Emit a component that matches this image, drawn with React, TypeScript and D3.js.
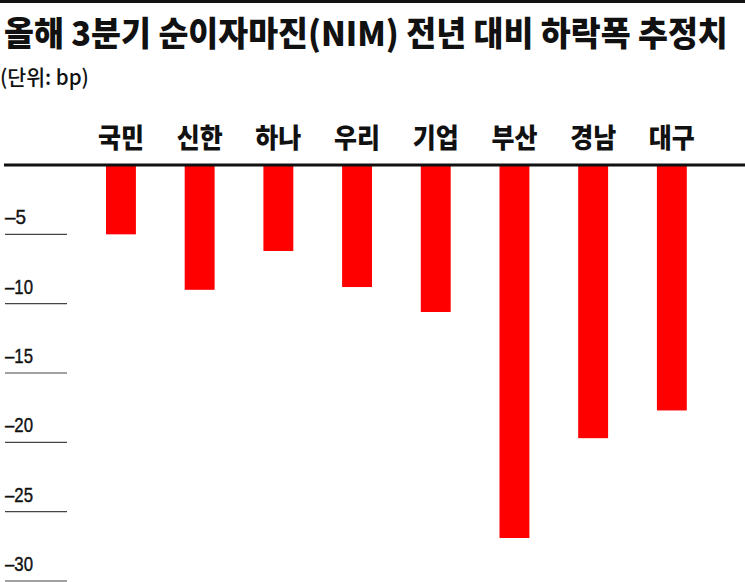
import React, { useRef, useEffect } from 'react';
import * as d3 from 'd3';

const banks = ['국민', '신한', '하나', '우리', '기업', '부산', '경남', '대구'];
const nimDrop = [-5, -9, -6.2, -8.8, -10.6, -26.9, -19.7, -17.7];
const yTicks = [-5, -10, -15, -20, -25, -30];

const W = 745;
const H = 582;

// 텍스트를 가로로 눌러 원하는 폭에 맞춤 (x 기준점 유지)
function squeeze(node: SVGTextElement | null, target: number, x0: number, anchor: 'start' | 'middle' = 'start') {
  if (!node) return;
  const len = node.getComputedTextLength();
  if (!len) return;
  const k = target / len;
  node.setAttribute('transform', `translate(${x0},0) scale(${k},1) translate(${-x0},0)`);
  if (anchor === 'middle') node.setAttribute('text-anchor', 'middle');
}

const NimChart: React.FC = () => {
  const svgRef = useRef<SVGSVGElement | null>(null);

  useEffect(() => {
    const svg = d3.select(svgRef.current)
      .attr('width', W)
      .attr('height', H)
      .style('background', '#fff')
      .style('position', 'absolute')
      .style('left', '0px')
      .style('top', '0px');

    const kr = "'Noto Sans CJK KR', 'Noto Sans', sans-serif";

    // 위쪽 굵은 선
    svg.append('rect')
      .attr('x', 0).attr('y', 0)
      .attr('width', W).attr('height', 3)
      .attr('fill', '#111');

    const title = svg.append('text')
      .attr('x', 4)
      .attr('y', 46)
      .style('font-family', kr)
      .style('font-weight', 900)
      .style('font-size', '34px')
      .attr('fill', '#111')
      .text('올해 3분기 순이자마진(NIM) 전년 대비 하락폭 추정치');
    squeeze(title.node(), 724, 4);

    const unit = svg.append('text')
      .attr('x', 0)
      .attr('y', 85)
      .style('font-family', kr)
      .style('font-weight', 500)
      .style('font-size', '21px')
      .attr('fill', '#111')
      .text('(단위: bp)');
    squeeze(unit.node(), 89, 0);

    const x = d3.scaleBand<string>()
      .domain(banks)
      .range([81.6, 711.2])
      .paddingInner(0.62)
      .paddingOuter(0.31);

    const y = d3.scaleLinear()
      .domain([0, -30])
      .range([165, 581]);

    // 눈금선과 라벨
    const grid = svg.append('g');
    grid.selectAll('line')
      .data(yTicks)
      .enter()
      .append('line')
      .attr('x1', 5)
      .attr('x2', 67)
      .attr('y1', d => y(d))
      .attr('y2', d => y(d))
      .attr('stroke', '#444')
      .attr('stroke-width', 1.2);

    grid.selectAll('text')
      .data(yTicks)
      .enter()
      .append('text')
      .attr('x', 5)
      .attr('y', d => y(d) - 10)
      .style('font-family', "'Liberation Sans', Arial, sans-serif")
      .style('font-size', '20px')
      .attr('fill', '#111')
      .attr('stroke', '#111')
      .attr('stroke-width', 0.4)
      .text(d => '–' + Math.abs(d))
      .each(function (d) {
        squeeze(this as SVGTextElement, String(Math.abs(d)).length === 1 ? 21 : 28, 5);
      });

    svg.append('g')
      .selectAll('rect')
      .data(nimDrop)
      .enter()
      .append('rect')
      .attr('x', (d, i) => x(banks[i])!)
      .attr('y', y(0))
      .attr('width', x.bandwidth())
      .attr('height', d => y(d) - y(0))
      .attr('fill', '#ff0000');

    // 0 기준선
    svg.append('line')
      .attr('x1', 4)
      .attr('x2', W)
      .attr('y1', y(0))
      .attr('y2', y(0))
      .attr('stroke', '#111')
      .attr('stroke-width', 3);

    svg.append('g')
      .selectAll('text')
      .data(banks)
      .enter()
      .append('text')
      .attr('x', d => x(d)! + x.bandwidth() / 2)
      .attr('y', 148)
      .attr('text-anchor', 'middle')
      .style('font-family', kr)
      .style('font-weight', 900)
      .style('font-size', '27px')
      .attr('fill', '#111')
      .text(d => d)
      .each(function (d) {
        squeeze(this as SVGTextElement, 46, x(d)! + x.bandwidth() / 2);
      });

    return () => {
      svg.selectAll('*').remove();
    };
  }, []);

  return <svg ref={svgRef}></svg>;
};

export default function App() {
  return <NimChart />;
}
